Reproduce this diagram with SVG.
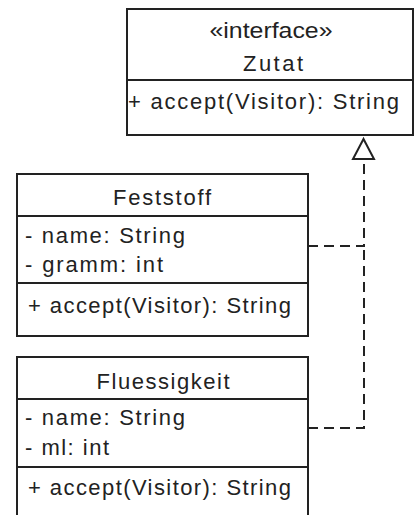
<svg xmlns="http://www.w3.org/2000/svg" width="414" height="515" viewBox="0 0 414 515">
<style>
.box{fill:#fff;stroke:#222;stroke-width:2}
.sep{stroke:#222;stroke-width:2}
text{font-family:"Liberation Sans",Arial,sans-serif;font-size:22px;fill:#222}
.c{text-anchor:middle}
.dash{fill:none;stroke:#222;stroke-width:2;stroke-dasharray:10 6}
.head{fill:#fff;stroke:#222;stroke-width:2}
</style>
<rect width="414" height="515" fill="#fff"/>
<g id="connectors">
<path class="dash" d="M308,246 H364 V159"/>
<path class="dash" d="M308,428 H364 V246"/>
<polygon class="head" points="363.5,139 353,159 374,159"/>
</g>
<g id="Zutat">
<rect class="box" x="127" y="9" width="286" height="126"/>
<line class="sep" x1="127" y1="80" x2="413" y2="80"/>
<text class="c" x="271" y="38" font-size="20" textLength="123" lengthAdjust="spacingAndGlyphs">«interface»</text>
<text class="c" x="273" y="71" textLength="60" lengthAdjust="spacing">Zutat</text>
<text x="128" y="109" textLength="271" lengthAdjust="spacing">+ accept(Visitor): String</text>
</g>
<g id="Feststoff">
<rect class="box" x="17" y="174" width="291" height="162"/>
<line class="sep" x1="17" y1="216" x2="308" y2="216"/>
<line class="sep" x1="17" y1="283" x2="308" y2="283"/>
<text class="c" x="162" y="205" textLength="98" lengthAdjust="spacing">Feststoff</text>
<text x="25" y="243" textLength="160" lengthAdjust="spacing">- name: String</text>
<text x="25" y="272" textLength="138" lengthAdjust="spacing">- gramm: int</text>
<text x="28" y="313" textLength="263" lengthAdjust="spacing">+ accept(Visitor): String</text>
</g>
<g id="Fluessigkeit">
<rect class="box" x="17" y="357" width="291" height="170"/>
<line class="sep" x1="17" y1="399" x2="308" y2="399"/>
<line class="sep" x1="17" y1="467" x2="308" y2="467"/>
<text class="c" x="163" y="389" textLength="133" lengthAdjust="spacing">Fluessigkeit</text>
<text x="25" y="425" textLength="160" lengthAdjust="spacing">- name: String</text>
<text x="25" y="455" textLength="84" lengthAdjust="spacing">- ml: int</text>
<text x="28" y="495" textLength="263" lengthAdjust="spacing">+ accept(Visitor): String</text>
</g>
</svg>
